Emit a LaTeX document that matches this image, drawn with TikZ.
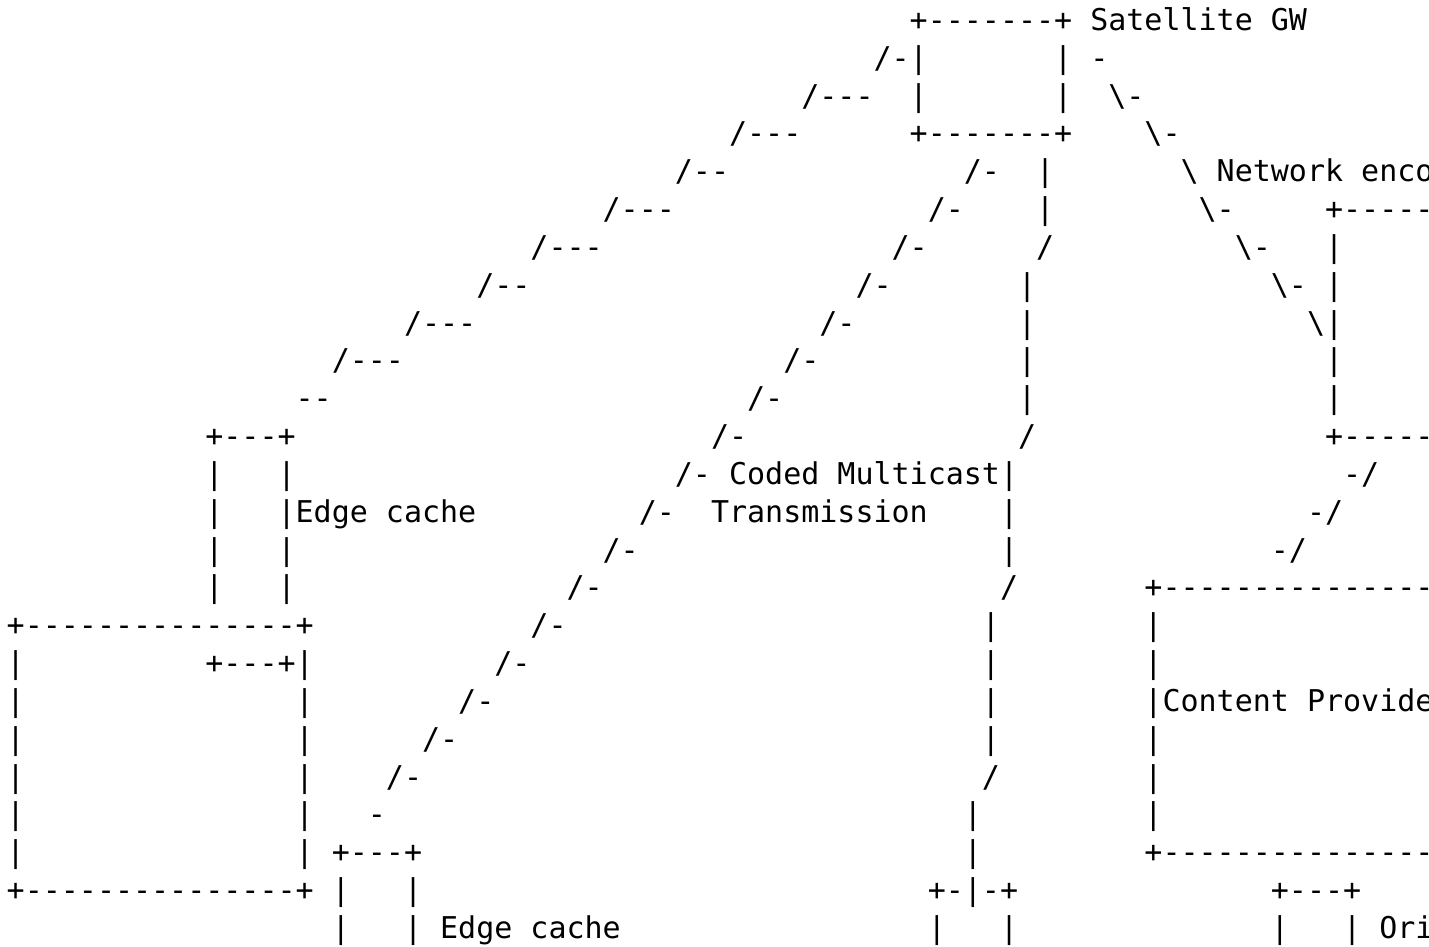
\documentclass[tikz,border=0pt]{standalone}
\usepackage{fontspec}
\setmonofont{DejaVu Sans Mono}
\begin{document}
\begin{tikzpicture}[
  tt/.style={font=\ttfamily\fontsize{15pt}{18pt}\selectfont, anchor=base west,
             inner sep=0pt, outer sep=0pt, text=black}]
\fill[white] (0pt,0pt) rectangle (714.5pt,-473.5pt);
\useasboundingbox (0pt,0pt) rectangle (714.5pt,-473.5pt);
\newcommand\T[3]{\node[tt] (t-#1-#2) at (#1,#2) {#3};}
\newcommand\bs{\textbackslash}
\begin{scope}[shift={(3.35pt,-15.25pt)}, x=9.03pt, y=-18.915pt]
% row 0
\T{50}{0}{+-------+}\T{60}{0}{Satellite GW}
% row 1
\T{48}{1}{/-|}\T{58}{1}{|}\T{60}{1}{-}
% row 2
\T{44}{2}{/---}\T{50}{2}{|}\T{58}{2}{|}\T{61}{2}{\bs-}
% row 3
\T{40}{3}{/---}\T{50}{3}{+-------+}\T{63}{3}{\bs-}
% row 4
\T{37}{4}{/--}\T{53}{4}{/-}\T{57}{4}{|}\T{65}{4}{\bs}\T{67}{4}{Network enco}
% row 5
\T{33}{5}{/---}\T{51}{5}{/-}\T{57}{5}{|}\T{66}{5}{\bs-}\T{73}{5}{+-----}
% row 6
\T{29}{6}{/---}\T{49}{6}{/-}\T{57}{6}{/}\T{68}{6}{\bs-}\T{73}{6}{|}
% row 7
\T{26}{7}{/--}\T{47}{7}{/-}\T{56}{7}{|}\T{70}{7}{\bs-}\T{73}{7}{|}
% row 8
\T{22}{8}{/---}\T{45}{8}{/-}\T{56}{8}{|}\T{72}{8}{\bs|}
% row 9
\T{18}{9}{/---}\T{43}{9}{/-}\T{56}{9}{|}\T{73}{9}{|}
% row 10
\T{16}{10}{--}\T{41}{10}{/-}\T{56}{10}{|}\T{73}{10}{|}
% row 11
\T{11}{11}{+---+}\T{39}{11}{/-}\T{56}{11}{/}\T{73}{11}{+-----}
% row 12
\T{11}{12}{|}\T{15}{12}{|}\T{37}{12}{/-}\T{40}{12}{Coded Multicast|}\T{74}{12}{-/}
% row 13
\T{11}{13}{|}\T{15}{13}{|Edge cache}\T{35}{13}{/-}\T{39}{13}{Transmission}\T{55}{13}{|}\T{72}{13}{-/}
% row 14
\T{11}{14}{|}\T{15}{14}{|}\T{33}{14}{/-}\T{55}{14}{|}\T{70}{14}{-/}
% row 15
\T{11}{15}{|}\T{15}{15}{|}\T{31}{15}{/-}\T{55}{15}{/}\T{63}{15}{+---------------}
% row 16
\T{0}{16}{+---------------+}\T{29}{16}{/-}\T{54}{16}{|}\T{63}{16}{|}
% row 17
\T{0}{17}{|}\T{11}{17}{+---+|}\T{27}{17}{/-}\T{54}{17}{|}\T{63}{17}{|}
% row 18
\T{0}{18}{|}\T{16}{18}{|}\T{25}{18}{/-}\T{54}{18}{|}\T{63}{18}{|Content Provide}
% row 19
\T{0}{19}{|}\T{16}{19}{|}\T{23}{19}{/-}\T{54}{19}{|}\T{63}{19}{|}
% row 20
\T{0}{20}{|}\T{16}{20}{|}\T{21}{20}{/-}\T{54}{20}{/}\T{63}{20}{|}
% row 21
\T{0}{21}{|}\T{16}{21}{|}\T{20}{21}{-}\T{53}{21}{|}\T{63}{21}{|}
% row 22
\T{0}{22}{|}\T{16}{22}{|}\T{18}{22}{+---+}\T{53}{22}{|}\T{63}{22}{+---------------}
% row 23
\T{0}{23}{+---------------+}\T{18}{23}{|}\T{22}{23}{|}\T{51}{23}{+-|-+}\T{70}{23}{+---+}
% row 24
\T{18}{24}{|}\T{22}{24}{|}\T{24}{24}{Edge cache}\T{51}{24}{|}\T{55}{24}{|}\T{70}{24}{|}\T{74}{24}{|}\T{76}{24}{Ori}
\end{scope}
\end{tikzpicture}
\end{document}
